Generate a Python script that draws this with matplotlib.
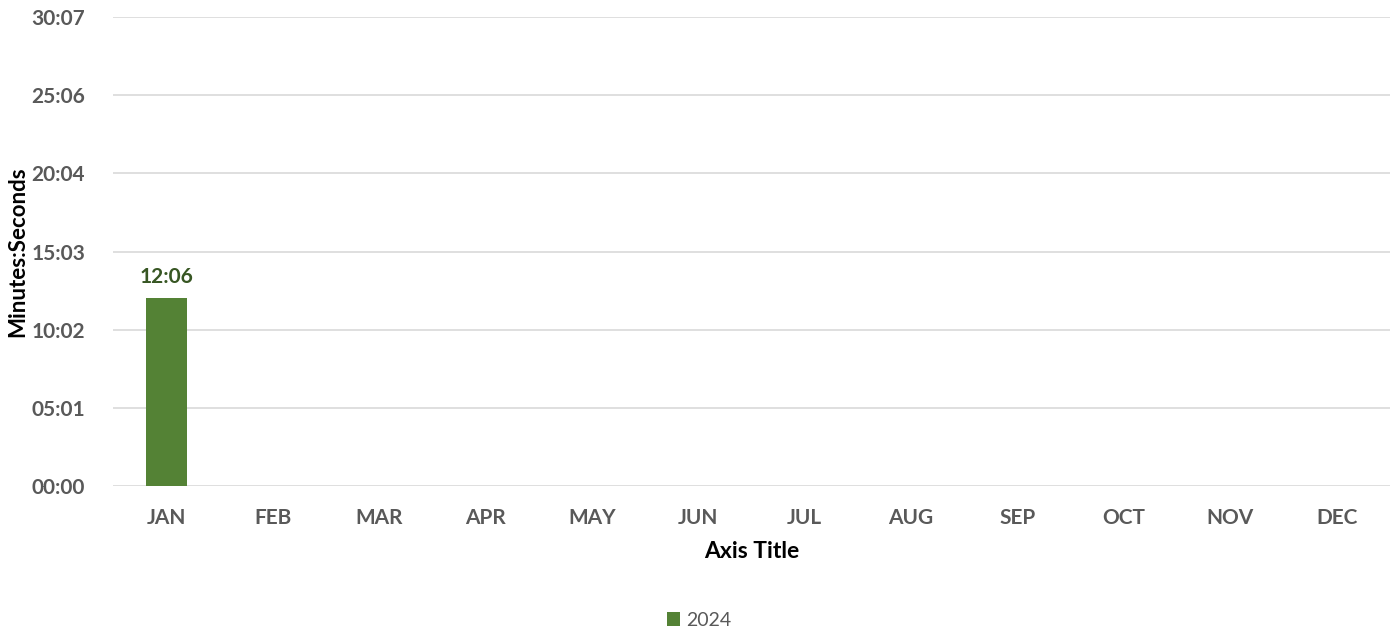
import matplotlib.pyplot as plt
from matplotlib.ticker import FuncFormatter

plt.rcParams['font.family'] = ['Lato', 'DejaVu Sans']

# data (seconds)
months = ['JAN', 'FEB', 'MAR', 'APR', 'MAY', 'JUN',
          'JUL', 'AUG', 'SEP', 'OCT', 'NOV', 'DEC']
times_2024 = [726, 0, 0, 0, 0, 0, 0, 0, 0, 0, 0, 0]
tick_secs = [0, 301.2, 602.4, 903.6, 1204.8, 1506.0, 1807.2]


def mmss(v, pos=None):
    # excel style: seconds are truncated, not rounded
    s = int(v + 1e-6)
    return '%02d:%02d' % (s // 60, s % 60)


fig = plt.figure(figsize=(13.98, 6.33), dpi=100)
ax = fig.add_axes([0.0808, 0.2322, 0.9135, 0.7409])

x = list(range(len(months)))
bars = ax.bar(x, times_2024, width=0.385, color='#548235', label='2024', zorder=2)

# data label only for non-empty bars
for xi, v in zip(x, times_2024):
    if v > 0:
        ax.text(xi, v + 40, mmss(v), ha='center', va='bottom',
                fontsize=15, fontweight='bold', color='#375623')

ax.set_xlim(-0.5, len(months) - 0.5)
ax.set_ylim(0, tick_secs[-1])
ax.set_yticks(tick_secs)
ax.yaxis.set_major_formatter(FuncFormatter(mmss))
ax.set_xticks(x)
ax.set_xticklabels(months)

ax.grid(axis='y', color='#d9d9d9', linewidth=1.2, zorder=0)
for sp in ax.spines.values():
    sp.set_visible(False)
ax.tick_params(length=0, labelsize=15, labelcolor='#595959')
ax.tick_params(axis='x', pad=16)
ax.tick_params(axis='y', pad=20)
for lbl in ax.get_xticklabels() + ax.get_yticklabels():
    lbl.set_fontweight('bold')

ax.set_xlabel('Axis Title', fontsize=16.5, fontweight='bold', color='black', labelpad=9)
ax.set_ylabel('Minutes:Seconds', fontsize=16, fontweight='bold', color='black',
              va='center')
ax.yaxis.set_label_coords(-0.0745, 0.5)

fig.legend(handles=[bars], labels=['2024'], loc='center', bbox_to_anchor=(0.5, 0.02),
           frameon=False, fontsize=14, labelcolor='#595959', handlelength=0.7,
           handleheight=0.7, handletextpad=0.3)

fig.savefig('out.png', dpi=100)
